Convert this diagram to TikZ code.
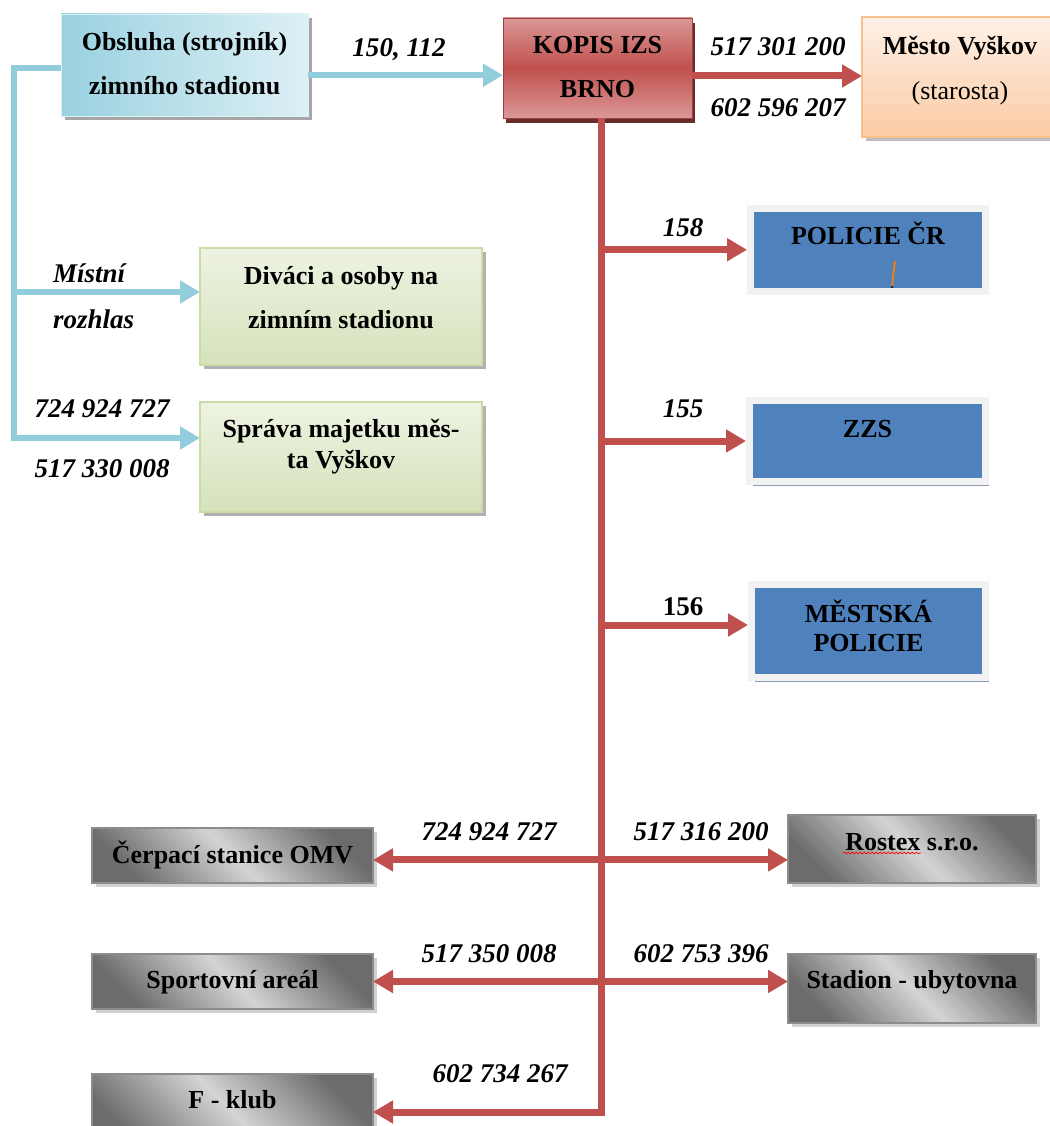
\documentclass[tikz,border=0pt]{standalone}
\usepackage{fontspec}
\setmainfont{Liberation Serif}
\usepackage{xcolor}
\usepackage{tikz}
\usetikzlibrary{positioning, arrows.meta, calc, shadows, decorations.pathmorphing}

\definecolor{aqualine}{HTML}{92CDDC}
\definecolor{aquadark}{HTML}{9AD1E0}
\definecolor{aqualight}{HTML}{DDF0F5}
\definecolor{kopisred}{HTML}{C0504D}
\definecolor{kopispink}{HTML}{DA9896}
\definecolor{peachtop}{HTML}{FEF1E7}
\definecolor{peachbot}{HTML}{FBCBA4}
\definecolor{peachedge}{HTML}{F9C08F}
\definecolor{greentop}{HTML}{EEF3E2}
\definecolor{greenbot}{HTML}{D5E2BB}
\definecolor{greenedge}{HTML}{CADBA6}
\definecolor{policeblue}{HTML}{4F81BD}
\definecolor{framegray}{HTML}{F2F2F2}
\definecolor{shadowblue}{HTML}{8C9CB0}
\definecolor{graydark}{HTML}{6C6C6C}
\definecolor{graylight}{HTML}{D4D4D4}

\begin{document}
\begin{tikzpicture}[x=1pt, y=-1pt,
    box/.style={rectangle, anchor=north west, inner xsep=6pt, inner ysep=0pt, outer sep=0pt, align=center, font=\bfseries\fontsize{26}{44}\selectfont},
    aquabox/.style={box, left color=aquadark, right color=aqualight, draw=aqualight, drop shadow={shadow xshift=4pt, shadow yshift=-4pt, fill=black!35, opacity=1}},
    redbox/.style={box, top color=kopispink, bottom color=kopispink, middle color=kopisred, draw=kopisred!80!black, drop shadow={shadow xshift=3pt, shadow yshift=-5pt, fill=kopisred!55!black, opacity=1}},
    peachbox/.style={box, top color=peachtop, bottom color=peachbot, draw=peachedge, line width=1.5pt, drop shadow={shadow xshift=4pt, shadow yshift=-4pt, fill=black!25, opacity=1}},
    greenbox/.style={box, top color=greentop, bottom color=greenbot, draw=greenedge, line width=1.5pt, drop shadow={shadow xshift=4pt, shadow yshift=-4pt, fill=black!30, opacity=1}},
    bluebox/.style={box, fill=policeblue, draw=framegray, line width=7pt, outer sep=3.5pt, drop shadow={shadow xshift=3pt, shadow yshift=-4pt, fill=shadowblue, opacity=1}},
    graybox/.style={box, top color=graydark, bottom color=graydark, middle color=graylight, shading angle=-45, draw=black!45, line width=1.2pt, drop shadow={shadow xshift=4pt, shadow yshift=-4pt, fill=black!18, opacity=1}},
    num/.style={inner sep=0pt, font=\bfseries\itshape\fontsize{27}{30}\selectfont},
    blueline/.style={draw=aqualine, line width=6pt},
    bluearrow/.style={blueline, -{Triangle[width=22pt, length=20pt]}},
    redline/.style={draw=kopisred, line width=7pt},
    redarrow/.style={redline, -{Triangle[width=22pt, length=20pt]}},
    reddouble/.style={redline, {Triangle[width=22pt, length=20pt]}-{Triangle[width=22pt, length=20pt]}}
  ]
  \fill[white] (0,0) rectangle (1049,1126);
  \useasboundingbox (0,0) rectangle (1049,1126);

  \node[aquabox, minimum width=247pt, text height=81pt, text depth=21pt] (obsluha) at (61,14) {Obsluha (strojník)\\zimního stadionu};
  \node[redbox, minimum width=189pt, text height=80pt, text depth=20pt] (kopis) at (503,18) {KOPIS IZS\\BRNO};
  \node[peachbox, minimum width=196pt, text height=83pt, text depth=37pt, font=\bfseries\fontsize{26}{45}\selectfont] (mesto) at (862,17) {Město Vyškov\\\mdseries(starosta)};
  \node[greenbox, minimum width=282pt, text height=80pt, text depth=37pt] (divaci) at (200,248) {Diváci a osoby na\\zimním stadionu};
  \node[greenbox, minimum width=282pt, text height=66pt, text depth=44pt, font=\bfseries\fontsize{26}{31}\selectfont] (sprava) at (200,402) {Správa majetku měs-\\ta Vyškov};

  \node[bluebox, minimum width=235pt, text height=35.5pt, text depth=47pt] (policie) at (747,205) {POLICIE ČR};
  \node[bluebox, minimum width=236pt, text height=36.5pt, text depth=44.5pt] (zzs) at (746,397) {ZZS};
  \node[bluebox, minimum width=234pt, text height=66.5pt, text depth=26.5pt, font=\bfseries\fontsize{26}{29}\selectfont] (mestska) at (748,581) {MĚSTSKÁ\\POLICIE};

  \node[graybox, minimum width=281pt, text height=35pt, text depth=20pt] (cerpaci) at (92,828) {Čerpací stanice OMV};
  \node[graybox, minimum width=281pt, text height=34pt, text depth=21pt] (sportovni) at (92,954) {Sportovní areál};
  \node[graybox, minimum width=281pt, text height=34pt, text depth=42pt] (fklub) at (92,1074) {F - klub};
  \node[graybox, minimum width=248pt, text height=35pt, text depth=33pt] (rostex) at (788,815) {Rostex s.r.o.};
  \node[graybox, minimum width=248pt, text height=34pt, text depth=35pt] (stadion) at (788,954) {Stadion - ubytovna};

  \coordinate (obsout) at ($(obsluha.north east)!0.6!(obsluha.south east)$);
  \coordinate (obsloop) at ($(obsluha.north west)!0.53!(obsluha.south west)$);
  \coordinate (rozhlasj) at (14,292);
  \coordinate (spravaj) at (14,438);
  \draw[bluearrow] (obsout) -- (obsout -| kopis.west);
  \draw[bluearrow] (obsloop) -| (spravaj) -- (spravaj -| sprava.west);
  \draw[bluearrow] (rozhlasj) -- (rozhlasj -| divaci.west);

  \coordinate (kopisout) at ($(kopis.north east)!0.58!(kopis.south east)$);
  \coordinate (trunk) at ([xshift=4pt]kopis.south);
  \coordinate (mestskaj) at ($(mestska.north west)!0.44!(mestska.south west)$);
  \coordinate (cerpacij) at ($(cerpaci.north east)!0.58!(cerpaci.south east)$);
  \draw[redarrow] (kopisout) -- (kopisout -| mesto.west);
  \draw[redarrow] (trunk) |- (fklub.east);
  \draw[redarrow] (trunk |- policie.west) -- (policie.west);
  \draw[redarrow] (trunk |- zzs.west) -- (zzs.west);
  \draw[redarrow] (trunk |- mestskaj) -- (mestskaj);
  \draw[reddouble] (cerpacij) -- (cerpacij -| rostex.west);
  \draw[reddouble] (sportovni.east) -- (sportovni.east -| stadion.west);

  \node[num] (n150) at (399,50) {150, 112};
  \node[num] (mestonum1) at (778,47) {517 301 200};
  \node[num] (mestonum2) at (778,108) {602 596 207};
  \node[num, anchor=west] (mistni) at (53,273) {Místní};
  \node[num, anchor=west] (rozhlas) at (53,319) {rozhlas};
  \node[num] (spravanum1) at (102,409) {724 924 727};
  \node[num] (spravanum2) at (102,469) {517 330 008};
  \node[num] (n158) at (683,228) {158};
  \node[num] (n155) at (683,409) {155};
  \node[num, font=\bfseries\fontsize{27}{30}\selectfont] (n156) at (683,607) {156};
  \node[num] (cerpacinum) at (489,832) {724 924 727};
  \node[num] (rostexnum) at (701,832) {517 316 200};
  \node[num] (sportovninum) at (489,954) {517 350 008};
  \node[num] (stadionnum) at (701,954) {602 753 396};
  \node[num] (fklubnum) at (500,1074) {602 734 267};

  \draw[draw=orange!70!brown, line width=2pt] (895,261) -- (892,286);
  \fill[black] (892,287) circle (1.2pt);
  \draw[red, line width=0.7pt, decorate, decoration={snake, amplitude=0.9pt, segment length=4pt}] (843,853) -- (921,853);
\end{tikzpicture}
\end{document}
